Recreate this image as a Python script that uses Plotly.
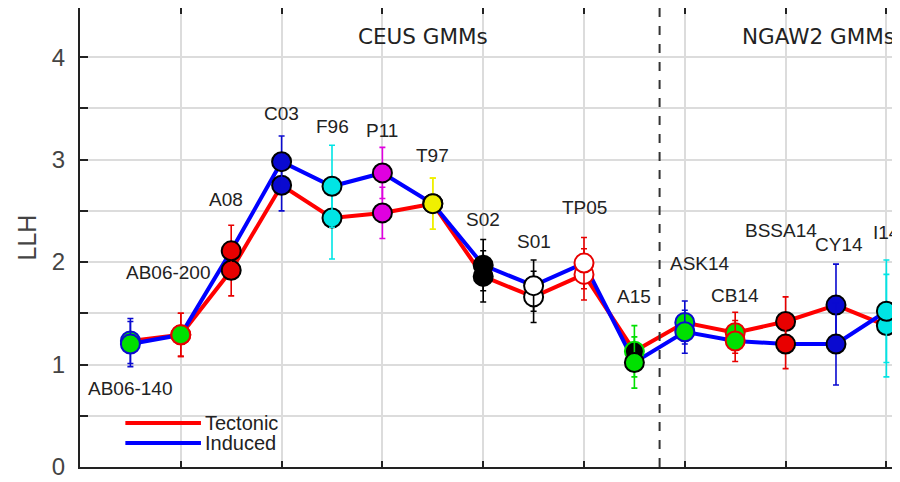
import plotly.graph_objects as go

# ---------------- data ----------------
CATEGORIES = ["AB06-140", "AB06-200", "A08", "C03", "F96", "P11", "T97", "S02",
              "S01", "TP05", "A15", "ASK14", "CB14", "BSSA14", "CY14", "I14"]
TECTONIC = [1.23, 1.29, 1.92, 2.75, 2.43, 2.48, 2.57, 1.86, 1.66, 1.88, 1.13, 1.41, 1.31, 1.42, 1.58, 1.38]
INDUCED = [1.20, 1.29, 2.11, 2.98, 2.74, 2.87, 2.57, 1.97, 1.77, 1.99, 1.02, 1.32, 1.23, 1.20, 1.20, 1.52]
ERROR = [0.22, 0.21, 0.25, 0.25, 0.40, 0.25, 0.25, 0.25, 0.25, 0.25, 0.25, 0.21, 0.20, 0.24, 0.40, 0.50]
SERIES = ["Tectonic", "Induced"]
Y_TICKS = [0, 1, 2, 3, 4]
GROUP_LABELS = ["CEUS GMMs", "NGAW2 GMMs"]

# ---------------- styles ----------------
G, R, B, C, M, Y, K, W = "#00e000", "#e80000", "#0a0ad0", "#00e5e5", "#e000e0", "#f0f000", "#000000", "#ffffff"
FACE_T = [G, G, R, B, C, M, Y, K, W, W, K, G, G, R, B, C]
FACE_I = [G, G, R, B, C, M, Y, K, W, W, G, G, G, R, B, C]
EDGE_T = [B, R, K, K, K, K, K, K, K, R, G, B, R, K, K, K]
EDGE_I = [B, R, K, K, K, K, K, K, K, R, K, B, R, K, K, K]
ERR_COL = [B, R, R, B, C, M, Y, K, K, R, G, B, R, R, B, C]
LINE_COL = ["#ff0000", "#0000ff"]
# label anchor positions (x offset, y) in data units
LABEL_POS = [(0, 0.77), (-0.25, 1.90), (-0.1, 2.61), (0, 3.45), (0, 3.32), (0, 3.28), (0, 3.04),
             (0, 2.42), (0, 2.20), (0, 2.53), (0, 1.66), (0.3, 1.99), (0, 1.67), (-0.1, 2.31), (0.05, 2.17), (0, 2.29)]

xs = list(range(1, len(CATEGORIES) + 1))

fig = go.Figure()
fig.add_trace(go.Scatter(x=xs, y=TECTONIC, mode="lines", name=SERIES[0], showlegend=False,
                         line=dict(color=LINE_COL[0], width=4), hoverinfo="skip"))
fig.add_trace(go.Scatter(x=xs, y=INDUCED, mode="lines", name=SERIES[1], showlegend=False,
                         line=dict(color=LINE_COL[1], width=4), hoverinfo="skip"))

for i, x in enumerate(xs):
    for vals, face, edge in ((TECTONIC, FACE_T, EDGE_T), (INDUCED, FACE_I, EDGE_I)):
        fig.add_trace(go.Scatter(
            x=[x], y=[vals[i]], mode="markers", showlegend=False,
            marker=dict(size=19, color=face[i], line=dict(color=edge[i], width=2)),
            error_y=dict(type="data", array=[ERROR[i]], color=ERR_COL[i], thickness=1.6, width=3),
            name=CATEGORIES[i]))

annotations = []
for i, x in enumerate(xs):
    dx, ly = LABEL_POS[i]
    annotations.append(dict(x=x + dx, y=ly, xref="x", yref="y", text=CATEGORIES[i],
                            showarrow=False, font=dict(family="Liberation Sans, Arial", size=19, color="#222")))
annotations.append(dict(x=6.8, y=4.2, xref="x", yref="y", text=GROUP_LABELS[0], showarrow=False,
                        font=dict(family="DejaVu Sans", size=21.5, color="#222")))
annotations.append(dict(x=14.65, y=4.2, xref="x", yref="y", text=GROUP_LABELS[1], showarrow=False,
                        font=dict(family="DejaVu Sans", size=21.5, color="#222")))

# legend (drawn in axis units so it sits inside the plot)
LEG_X0, LEG_X1, LEG_Y = 0.9, 2.4, [0.43, 0.234]
for k in range(2):
    fig.add_shape(type="line", x0=LEG_X0, x1=LEG_X1, y0=LEG_Y[k], y1=LEG_Y[k], xref="x", yref="y",
                  line=dict(color=LINE_COL[k], width=4))
    annotations.append(dict(x=LEG_X1 + 0.04, y=LEG_Y[k], xref="x", yref="y", text=SERIES[k],
                            xanchor="left", showarrow=False,
                            font=dict(family="Liberation Sans, Arial", size=20, color="#222")))

fig.add_shape(type="line", x0=11.5, x1=11.5, y0=0, y1=1, xref="x", yref="paper",
              line=dict(color="#333", width=2, dash="dash"))

# the page body adds an 8px offset, so the figure is sized/margined to compensate
fig.update_layout(
    width=892, height=474,
    margin=dict(l=72, r=0, t=0, b=15),
    paper_bgcolor="white", plot_bgcolor="white",
    annotations=annotations,
    showlegend=False,
    xaxis=dict(range=[0, 16.27], tickvals=list(range(2, 17, 2)), showticklabels=False,
               ticks="inside", ticklen=6, tickwidth=1.5, tickcolor="#222", automargin=False,
               showgrid=True, gridcolor="#dcdcdc", gridwidth=1.5,
               showline=True, linecolor="#222", linewidth=2, mirror="ticks", zeroline=False),
    yaxis=dict(range=[0, 4.48], tickvals=Y_TICKS, ticks="inside", ticklen=8, tickwidth=1.5,
               tickcolor="#222", showgrid=True, gridcolor="#dcdcdc", gridwidth=1.5, automargin=False,
               minor=dict(tickvals=[0.5, 1.5, 2.5, 3.5], showgrid=True, gridcolor="#dcdcdc", gridwidth=1.5,
                          ticks="inside", ticklen=8, tickcolor="#222"),
               showline=True, linecolor="#222", linewidth=2, zeroline=False, ticklabelstandoff=8,
               tickfont=dict(family="Liberation Sans, Arial", size=24, color="#444"),
               title=dict(text="LLH", font=dict(family="Liberation Sans, Arial", size=25, color="#444"),
                          standoff=8)),
)

fig.write_html("out.html")
